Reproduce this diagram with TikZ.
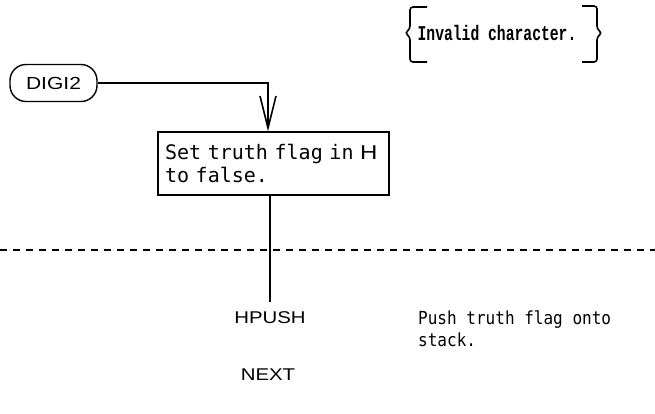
\documentclass[tikz,border=0pt]{standalone}
\usepackage{fontspec}
\setmainfont{Liberation Sans}
\newfontfamily\typew{DejaVu Sans Mono}
\newfontfamily\notefont[FakeStretch=0.89]{DejaVu Sans Mono}
\newfontfamily\cmtfont[FakeStretch=0.7]{Liberation Mono}
\newfontfamily\labsans[FakeStretch=1.2]{Liberation Sans}
\usetikzlibrary{arrows.meta,calc}
\begin{document}
\begin{tikzpicture}[x=1pt,y=1pt,
  term/.style={draw, line width=1.4pt, rounded corners=16pt, minimum width=87pt, minimum height=37pt,
    font=\labsans\fontsize{17.5}{20}\selectfont, inner sep=0pt},
  proc/.style={draw, line width=1.3pt, minimum width=231pt, minimum height=63pt, align=left,
    text width=217pt, inner xsep=7pt, inner ysep=4pt, font=\typew\fontsize{20}{23}\selectfont},
  lab/.style={font=\labsans\fontsize{17}{20}\selectfont, inner xsep=2pt, inner ysep=10pt},
  note/.style={font=\notefont\fontsize{18}{22}\selectfont, align=left, inner sep=0pt},
  cmt/.style={font=\cmtfont\bfseries\fontsize{21}{24}\selectfont, inner sep=0pt},
  conn/.style={line width=1.8pt},
  brk/.style={line width=1.6pt, rounded corners=3pt},
  sep/.style={line width=1.3pt, dash pattern=on 7pt off 6pt}]
\useasboundingbox (0,0) rectangle (655,-413);
% comment
\node[cmt] (c) at (497,-33) {Invalid character.};
\draw[brk] (427,-7) -- (410,-7) -- (410,-29) -- (405,-33) -- (410,-37) -- (410,-62) -- (427,-62);
\draw[brk] (582,-6) -- (597,-6) -- (597,-29) -- (602,-33) -- (597,-37) -- (597,-62) -- (582,-62);
% nodes
\node[term] (d) at (53.5,-83) {DIGI2};
\node[proc] (box) at (273.5,-163.5) {Set truth flag in {\labsans H}\\to false.};
\node[lab] (hp) at (270,-318) {HPUSH};
\node[lab] (nx) at (268,-375) {NEXT};
\node[note, anchor=west] (pn) at (418,-329) {Push truth flag onto\\stack.};
% separator
\draw[sep] (0,-250) -- (655,-250);
% connectors
\coordinate (bend) at (268,-83);
\draw[conn, -{Straight Barb[length=32pt,width=16pt,line width=1.6pt]}] (d.east) -- (bend) -- (bend |- box.north);
\draw[conn] (box.south -| hp) -- (hp.north);
\end{tikzpicture}
\end{document}
